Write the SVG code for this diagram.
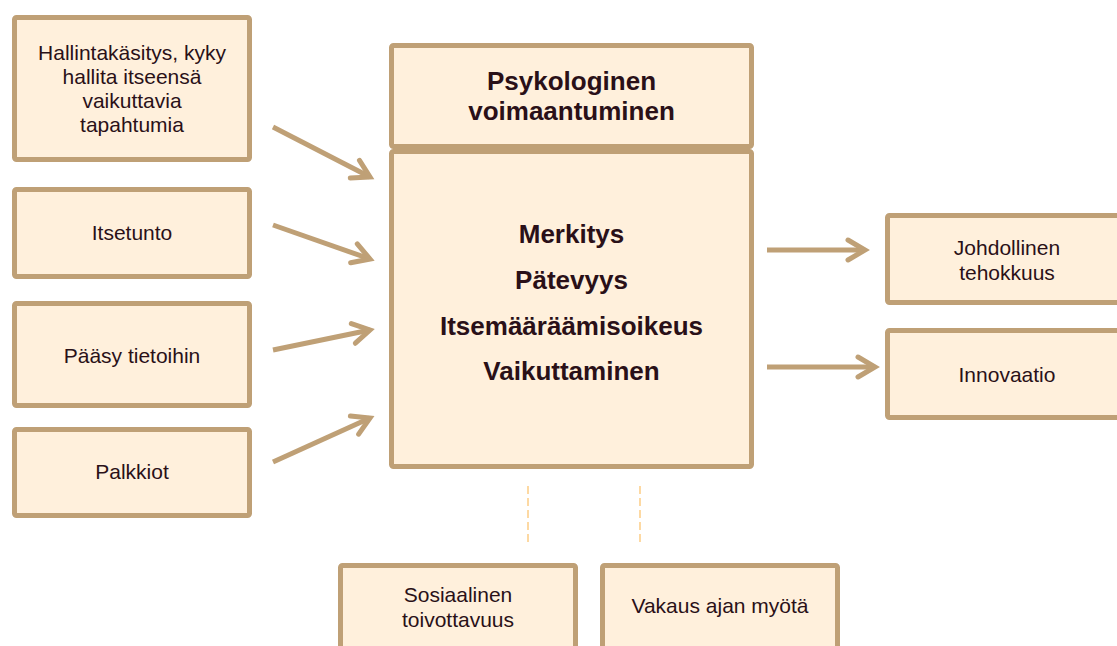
<svg xmlns="http://www.w3.org/2000/svg" width="1117" height="646" viewBox="0 0 1117 646">
<defs>
<style>
.box{fill:#fff0dc;stroke:#bfa076;stroke-width:5}
.t{font-family:"Liberation Sans",Arial,sans-serif;font-size:21px;fill:#2a1018;text-anchor:middle}
.b{font-family:"Liberation Sans",Arial,sans-serif;font-size:26px;font-weight:bold;fill:#2a1018;text-anchor:middle}
.arr{stroke:#bfa076;stroke-width:5;fill:none;stroke-linecap:butt;marker-end:url(#chev)}
.dash{stroke:#fdd9a3;stroke-width:2;stroke-dasharray:8 4;fill:none}
</style>
<marker id="chev" markerUnits="userSpaceOnUse" markerWidth="30" markerHeight="30" viewBox="-20 -15 30 30" refX="0" refY="0" orient="auto">
<path d="M-17,-10 L0,0 L-17,10" fill="none" stroke="#bfa076" stroke-width="5" stroke-linecap="round" stroke-linejoin="miter"/>
</marker>
</defs>
<rect width="1117" height="646" fill="#ffffff"/>
<g id="connectors">
<line class="arr" x1="273" y1="127" x2="370" y2="177"/>
<line class="arr" x1="273" y1="225" x2="370" y2="259"/>
<line class="arr" x1="273" y1="350" x2="370" y2="330"/>
<line class="arr" x1="273" y1="462" x2="370" y2="418"/>
<line class="arr" x1="767" y1="250" x2="865" y2="250"/>
<line class="arr" x1="767" y1="367" x2="875" y2="367"/>
<line class="dash" x1="528" y1="486" x2="528" y2="543"/>
<line class="dash" x1="640" y1="486" x2="640" y2="543"/>
</g>
<g id="n-hallinta">
<rect class="box" x="14.5" y="17.5" width="235" height="142" rx="2"/>
<text class="t" x="132" y="60">Hallintakäsitys, kyky</text>
<text class="t" x="132" y="84">hallita itseensä</text>
<text class="t" x="132" y="108">vaikuttavia</text>
<text class="t" x="132" y="132">tapahtumia</text>
</g>
<g id="n-itsetunto">
<rect class="box" x="14.5" y="189.5" width="235" height="87" rx="2"/>
<text class="t" x="132" y="240">Itsetunto</text>
</g>
<g id="n-paasy">
<rect class="box" x="14.5" y="303.5" width="235" height="102" rx="2"/>
<text class="t" x="132" y="363">Pääsy tietoihin</text>
</g>
<g id="n-palkkiot">
<rect class="box" x="14.5" y="429.5" width="235" height="86" rx="2"/>
<text class="t" x="132" y="479">Palkkiot</text>
</g>
<g id="n-title">
<rect class="box" x="391.5" y="45.5" width="360" height="101" rx="2"/>
<text class="b" x="571.5" y="90">Psykologinen</text>
<text class="b" x="571.5" y="120">voimaantuminen</text>
</g>
<g id="n-dimensions">
<rect class="box" x="391.5" y="151.5" width="360" height="315" rx="2"/>
<text class="b" x="571.5" y="243">Merkitys</text>
<text class="b" x="571.5" y="289">Pätevyys</text>
<text class="b" x="571.5" y="335">Itsemääräämisoikeus</text>
<text class="b" x="571.5" y="380">Vaikuttaminen</text>
</g>
<g id="n-johdollinen">
<rect class="box" x="887.5" y="215.5" width="244" height="87" rx="2"/>
<text class="t" x="1007" y="255">Johdollinen</text>
<text class="t" x="1007" y="280">tehokkuus</text>
</g>
<g id="n-innovaatio">
<rect class="box" x="887.5" y="330.5" width="244" height="87" rx="2"/>
<text class="t" x="1007" y="382">Innovaatio</text>
</g>
<g id="n-sosiaalinen">
<rect class="box" x="340.5" y="565.5" width="235" height="100" rx="2"/>
<text class="t" x="458" y="602">Sosiaalinen</text>
<text class="t" x="458" y="627">toivottavuus</text>
</g>
<g id="n-vakaus">
<rect class="box" x="602.5" y="565.5" width="235" height="100" rx="2"/>
<text class="t" x="720" y="613">Vakaus ajan myötä</text>
</g>
</svg>
